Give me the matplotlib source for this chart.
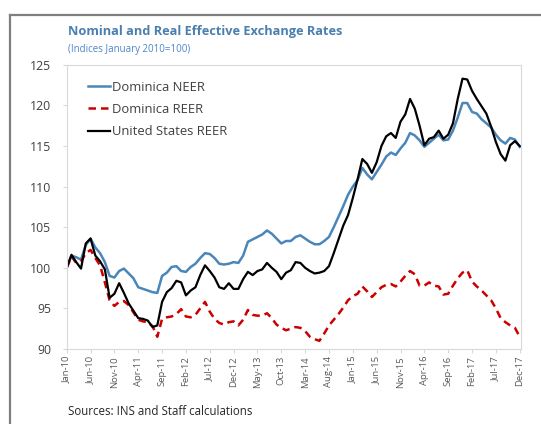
import matplotlib.pyplot as plt
import numpy as np
import pandas as pd
from matplotlib.lines import Line2D

plt.rcParams['font.family'] = ['Open Sans', 'DejaVu Sans']

# monthly indices, Jan 2010 = 100
months = pd.date_range('2010-01-01', '2017-12-01', freq='MS')

dominica_neer = [
    100.0, 101.5, 101.3, 101.0, 102.8, 103.6, 102.5, 101.8, 100.7, 99.0, 98.8, 99.6,
    99.9, 99.3, 98.7, 97.6, 97.4, 97.2, 97.0, 96.9, 99.0, 99.4, 100.1, 100.2,
    99.6, 99.5, 100.1, 100.5, 101.2, 101.8, 101.7, 101.2, 100.5, 100.4, 100.5, 100.7,
    100.6, 101.5, 103.2, 103.5, 103.8, 104.1, 104.6, 104.2, 103.6, 103.0, 103.3, 103.3,
    103.8, 104.0, 103.6, 103.2, 102.9, 102.9, 103.3, 103.8, 105.0, 106.3, 107.6, 109.0,
    110.0, 110.8, 112.3, 111.5, 110.9, 111.8, 112.7, 113.7, 114.2, 113.9, 114.7, 115.4,
    116.6, 116.3, 115.7, 114.9, 115.4, 115.9, 116.4, 115.7, 115.8, 116.9, 118.5, 120.3,
    120.3, 119.2, 119.0, 118.3, 117.8, 117.3, 116.4, 115.7, 115.3, 116.0, 115.8, 114.9,
]

dominica_reer = [
    100.0, 101.4, 100.6, 100.8, 101.8, 102.2, 101.2, 100.3, 98.2, 96.0, 95.3, 95.8,
    95.9, 95.4, 94.5, 93.6, 93.4, 93.3, 92.8, 91.5, 93.7, 93.9, 94.0, 94.3,
    94.9, 94.0, 93.9, 94.2, 95.0, 95.8, 94.6, 93.7, 93.2, 93.0, 93.3, 93.4,
    92.9, 93.6, 94.8, 94.2, 94.1, 94.1, 94.4, 93.8, 93.0, 92.6, 92.3, 92.5,
    92.7, 92.6, 92.2, 91.5, 91.2, 91.0, 91.9, 92.9, 93.6, 94.3, 95.1, 96.0,
    96.5, 96.8, 97.7, 97.1, 96.4, 97.0, 97.6, 97.9, 98.0, 97.7, 98.3, 99.0,
    99.6, 99.2, 97.8, 97.8, 98.2, 97.8, 97.7, 96.7, 96.8, 97.8, 98.7, 99.4,
    99.7, 98.3, 97.7, 97.2, 96.6, 96.0, 95.0, 93.8, 93.3, 92.9, 92.6, 91.5,
]

us_reer = [
    100.0, 101.6, 100.7, 99.9, 103.0, 103.6, 101.5, 100.8, 99.8, 96.3, 96.8, 98.1,
    96.9, 95.6, 94.7, 93.8, 93.7, 93.5, 92.7, 92.9, 95.8, 97.0, 97.5, 98.4,
    98.2, 96.6, 97.2, 97.6, 99.1, 100.3, 99.6, 98.8, 97.6, 97.4, 98.1, 97.4,
    97.4, 98.6, 99.5, 99.1, 99.6, 99.8, 100.6, 100.0, 99.5, 98.6, 99.4, 99.7,
    100.7, 100.6, 100.0, 99.6, 99.3, 99.4, 99.6, 100.2, 101.8, 103.5, 105.2, 106.5,
    108.6, 110.9, 113.4, 112.8, 111.7, 113.0, 115.0, 116.2, 116.6, 116.0, 118.0, 118.9,
    120.8, 119.6, 117.5, 115.1, 115.9, 116.1, 116.9, 115.9, 116.4, 117.8, 120.8, 123.3,
    123.2, 121.8, 120.8, 119.9, 119.0, 117.4, 115.5, 114.0, 113.2, 115.1, 115.6, 115.0,
]

x = np.arange(len(months))
tick_pos = x[::5]
tick_labels = [m.strftime('%b-%y') for m in months[::5]]

fig = plt.figure(figsize=(5.41, 4.24), dpi=100)

# box frame around the panel (left and top edges)
fig.add_artist(Line2D([0.019, 0.019], [0, 0.964], color='#7f7f7f', lw=1.6))
fig.add_artist(Line2D([0.019, 1.0], [0.964, 0.964], color='#7f7f7f', lw=1.6))

ax = fig.add_axes([0.1233, 0.177, 0.840, 0.670])

ax.plot(x, dominica_neer, color='#4a86b8', lw=1.8, label='Dominica NEER')
ax.plot(x, dominica_reer, color='#cc0000', lw=1.8, ls=(0, (3, 2)), label='Dominica REER')
ax.plot(x, us_reer, color='black', lw=1.6, label='United States REER')

ax.set_xlim(0, 95.3)
ax.set_ylim(90, 125)
ax.set_yticks(range(90, 126, 5))
ax.set_xticks(tick_pos)
ax.set_xticklabels(tick_labels, rotation=90, fontsize=6.8, color='#595959')
ax.tick_params(axis='y', labelsize=8.8, labelcolor='#404040', length=3, color='#d9d9d9', pad=8)
ax.tick_params(axis='x', length=3, color='#d9d9d9', pad=2)
for s in ax.spines.values():
    s.set_color('#d9d9d9')
    s.set_linewidth(0.8)

ax.legend(loc='upper left', frameon=False, fontsize=9.4, labelcolor='#404040',
          handlelength=1.7, handletextpad=0.15, labelspacing=0.7,
          bbox_to_anchor=(0.02, 0.985))

fig.text(0.126, 0.918, 'Nominal and Real Effective Exchange Rates', fontsize=9.2,
         fontweight='bold', color='#4a7fb0')
fig.text(0.126, 0.878, '(Indices January 2010=100)', fontsize=7.0, color='#4a86c8')
fig.text(0.126, 0.022, 'Sources: INS and Staff calculations', fontsize=8.3, color='#262626')

plt.savefig('out.png', dpi=100)
